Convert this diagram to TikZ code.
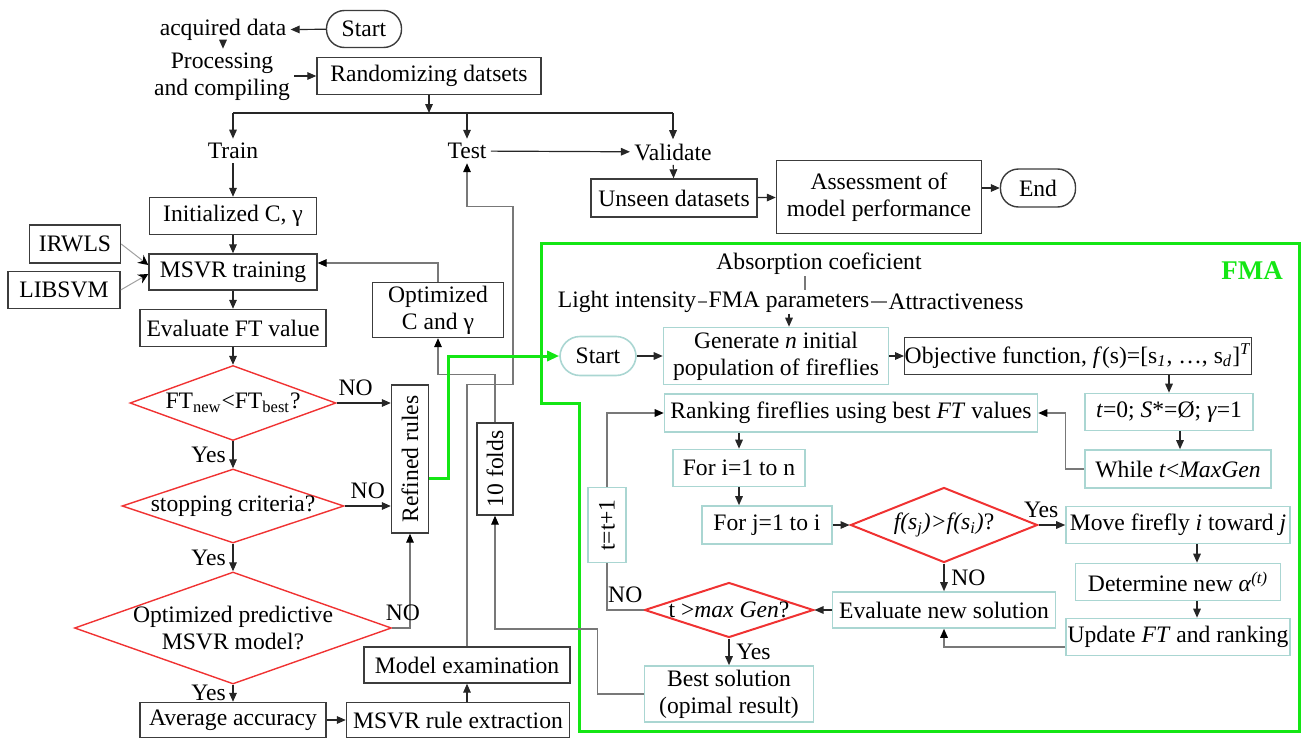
\documentclass[tikz,border=0pt]{standalone}
\usepackage{fontspec}
\setmainfont{Liberation Serif}
\usetikzlibrary{arrows.meta,shapes.geometric,calc}
\definecolor{boxline}{RGB}{60,60,60}
\definecolor{fmaline}{RGB}{170,214,210}
\definecolor{decred}{RGB}{240,50,50}
\definecolor{fmagreen}{RGB}{20,230,20}
\definecolor{wire}{RGB}{120,120,120}
\begin{document}
\begin{tikzpicture}[x=0.5pt,y=-0.5pt,
  font=\fontsize{11.8}{13.5}\selectfont,
  box/.style={draw=boxline,line width=0.7pt,inner sep=0pt,align=center},
  fbox/.style={draw=fmaline,line width=0.8pt,inner sep=0pt,align=center},
  term/.style={box,rounded corners=9pt},
  dec/.style={draw=decred,line width=0.7pt,diamond,inner sep=-4pt,align=center},
  txt/.style={inner sep=2pt,align=center},
  ptxt/.style={inner sep=0.5pt},
  arr/.style={draw=black!85,line width=0.6pt,-{Triangle[length=4.5pt,width=3.8pt]}},
  garr/.style={draw=wire,line width=0.6pt,-{Triangle[length=4.5pt,width=3.8pt,color=black]}},
  gline/.style={draw=wire,line width=0.6pt},
  irw/.style={draw=wire!70,line width=0.5pt,-{Stealth[length=5pt,width=5pt,color=black]}},
  grn/.style={draw=fmagreen,line width=1.5pt}]
  \useasboundingbox (0,0) rectangle (1301,739);
  \node[txt] (acq) at (223,30) {acquired data};
  \node[term,minimum width=37.5pt,minimum height=18.5pt] (start) at (364,29) {Start};
  \node[txt] (proc) at (222,77) {Processing\\and compiling};
  \node[box,minimum width=112pt,minimum height=18.5pt] (rand) at (429,76) {Randomizing datsets};
  \coordinate (bus) at (429,113);
  \node[txt] (train) at (233,151) {Train};
  \node[txt] (test) at (467,151) {Test};
  \node[txt] (valid) at (673,152) {Validate};
  \node[box,minimum width=83.5pt,minimum height=18.5pt] (init) at (233,216) {Initialized C, γ};
  \node[box,minimum width=45.5pt,minimum height=19pt] (irwls) at (75,244) {IRWLS};
  \node[box,minimum width=56pt,minimum height=18.5pt] (libsvm) at (64,290) {LIBSVM};
  \node[box,minimum width=84pt,minimum height=18pt] (msvr) at (233,272) {MSVR training};
  \node[box,minimum width=93pt,minimum height=18.5pt] (evft) at (233,328) {Evaluate FT value};
  \node[dec,minimum width=103pt,minimum height=37.5pt,aspect=2.75] (ftd) at (233,403) {FT\textsubscript{new}<FT\textsubscript{best}?};
  \node[dec,minimum width=111pt,minimum height=37pt,aspect=3] (stop) at (233,506) {stopping criteria?};
  \node[dec,minimum width=158.5pt,minimum height=56pt,aspect=2.83] (optd) at (233,628) {Optimized predictive\\MSVR model?};
  \node[box,minimum width=93pt,minimum height=17.5pt] (avg) at (233,720) {Average accuracy};
  \node[box,minimum width=111.5pt,minimum height=17.5pt] (rule) at (458,720) {MSVR rule extraction};
  \node[box,minimum width=103pt,minimum height=18pt] (modx) at (467,665) {Model examination};
  \node[box,minimum width=65.5pt,minimum height=27.5pt] (optc) at (438,310) {Optimized\\C and γ};
  \node[box,minimum width=18.5pt,minimum height=74pt] (refined) at (410,459) {\rotatebox{90}{Refined rules}};
  \node[box,minimum width=18pt,minimum height=46pt] (tenf) at (495,469) {\rotatebox{90}{10 folds}};
  \node[box,minimum width=83pt,minimum height=19pt] (unseen) at (674,198) {Unseen datasets};
  \node[box,minimum width=102.5pt,minimum height=36.5pt] (assess) at (879,197) {Assessment of\\model performance};
  \node[term,minimum width=37.5pt,minimum height=19pt] (endn) at (1038,188) {End};

  \draw[grn] (541,243) -- (541,403) -- (579,403) -- (579,731) -- (1299,731) -- (1299,243) -- cycle;
  \node[text=fmagreen,font=\fontsize{13.5}{15}\selectfont\bfseries] (fmalbl) at (1252,271) {FMA};
  \node[ptxt] (abs) at (819,264) {Absorption coeficient};
  \node[ptxt] (light) at (627,302) {Light intensity};
  \node[ptxt] (fmap) at (789,302) {FMA parameters};
  \node[ptxt] (attr) at (956,302) {Attractiveness};
  \node[fbox,rounded corners=10pt,minimum width=38pt,minimum height=19.5pt] (fstart) at (598,356) {Start};
  \node[fbox,minimum width=112.5pt,minimum height=28.5pt] (gen) at (776,356) {Generate \textit{n} initial\\population of fireflies};
  \node[box,minimum width=172.5pt,minimum height=18.5pt] (obj) at (1078,356) {Objective function, \textit{f}(s)=[s\textsubscript{\textit{1}}, …, s\textsubscript{\textit{d}}]\textsuperscript{\textit{T}}};
  \node[fbox,minimum width=84pt,minimum height=18.5pt] (tzero) at (1169,412) {\textit{t}=0; \textit{S}*=Ø; \textit{γ}=1};
  \node[fbox,minimum width=93pt,minimum height=19pt] (whl) at (1178,469) {While \textit{t}<\textit{MaxGen}};
  \node[fbox,minimum width=186.5pt,minimum height=19pt] (rank) at (851,413) {Ranking fireflies using best \textit{FT} values};
  \node[fbox,minimum width=66pt,minimum height=18.5pt] (fori) at (739,468) {For i=1 to n};
  \node[fbox,minimum width=65pt,minimum height=19pt] (forj) at (767,525) {For j=1 to i};
  \node[dec,line width=1pt,minimum width=93.5pt,minimum height=37.5pt,aspect=2.49] (fdia) at (944,525) {\textit{f(s\textsubscript{j})>f(s\textsubscript{i})}?};
  \node[fbox,minimum width=112pt,minimum height=18.5pt] (move) at (1178,525) {Move firefly \textit{i} toward \textit{j}};
  \node[fbox,minimum width=102.5pt,minimum height=18.5pt] (det) at (1178,582) {Determine new \textit{α}\textsuperscript{\textit{(t)}}};
  \node[fbox,minimum width=112pt,minimum height=18.5pt] (upd) at (1178,637) {Update \textit{FT} and ranking};
  \node[fbox,minimum width=111.5pt,minimum height=18pt] (evsol) at (944,610) {Evaluate new solution};
  \node[dec,line width=1pt,minimum width=84.5pt,minimum height=27.5pt,aspect=3.07] (tdia) at (729,610) {t >\textit{max Gen}?};
  \node[fbox,minimum width=84.5pt,minimum height=28pt] (best) at (729,694) {Best solution\\(opimal result)};
  \node[fbox,minimum width=19pt,minimum height=37.5pt] (tinc) at (607,525) {\rotatebox{90}{t=t+1}};

  \draw[arr] (start) -- (acq);
  \draw[arr] (acq.south) -- (acq.south |- proc.north);
  \draw[arr] (proc.east |- rand.west) -- (rand.west);
  \draw[arr] (rand.south) -- (bus);
  \draw[draw=black!85,line width=0.6pt] (train |- bus) -- (valid |- bus);
  \draw[arr] (train |- bus) -- (train.north);
  \draw[arr] (test |- bus) -- (test.north);
  \draw[arr] (valid |- bus) -- (valid.north);
  \draw[arr] (test) -- (valid);
  \draw[arr] (valid) -- (unseen);
  \draw[arr] (unseen) -- (assess);
  \draw[arr] (assess.east |- endn.west) -- (endn.west);
  \draw[arr] (train) -- (init);
  \draw[arr] (init) -- (msvr);
  \draw[irw] (irwls.east) -- ($(msvr.west)+(0,-7)$);
  \draw[irw] (libsvm.east) -- ($(msvr.west)+(0,2)$);
  \draw[arr] (msvr) -- (evft);
  \draw[arr] (evft) -- (ftd);
  \draw[arr] (ftd) -- node[left]{Yes} (stop);
  \draw[arr] (stop) -- node[left]{Yes} (optd);
  \draw[arr] (optd) -- node[left]{Yes} (avg);
  \draw[arr] (ftd.east) -- node[pos=0.35,above]{NO} (ftd.east -| refined.west);
  \draw[arr] (stop.east) -- node[above]{NO} (stop.east -| refined.west);
  \draw[garr] (optd.east) -| node[pos=0.3,above]{NO} (refined.south);
  \draw[garr] (optc.north) |- ($(msvr.east)+(0,-9)$);
  \draw[garr] (tenf.north) -- ++(0,-48) -| (optc.south);
  \draw[garr] (modx.north) -- ++(0,-262) -- ++(46,0) -- ++(0,-178) -| (test.south);
  \draw[arr] (avg) -- (rule);
  \draw[arr] (rule.north -| modx.south) -- (modx.south);
  \draw[garr] (best.west) -- ++(-46,0) -- ++(0,-65) -| (tenf.south);
  \draw[grn,-{Triangle[length=6pt,width=5pt]}] ($(refined.east)+(0,19)$) -- ++(19,0) |- (fstart.west);

  \draw[gline] ([xshift=-7pt]abs.south) -- ([xshift=-7pt]abs.south |- fmap.north);
  \draw[gline] (light.east) -- (fmap.west);
  \draw[gline] (fmap.east) -- (attr.west);
  \draw[arr] (fmap.south) -- (fmap.south |- gen.north);
  \draw[arr] (fstart) -- (gen);
  \draw[arr] (gen) -- (obj);
  \draw[arr] (tzero.north |- obj.south) -- (tzero.north);
  \draw[arr] ([xshift=5.5pt]tzero.south) -- ([xshift=5.5pt]tzero.south |- whl.north);
  \draw[garr] (whl.west) -- ++(-19,0) |- (rank.east);
  \draw[arr] (fori.north |- rank.south) -- (fori.north);
  \draw[arr] (fori.south) -- (fori.south |- forj.north);
  \draw[arr] (forj) -- (fdia);
  \draw[arr] (fdia) -- node[pos=0.1,above]{Yes} (move);
  \draw[arr] ([xshift=9.5pt]move.south) -- ([xshift=9.5pt]det.north);
  \draw[arr] ([xshift=9.5pt]det.south) -- ([xshift=9.5pt]upd.north);
  \draw[garr] ([yshift=-5pt]upd.west) -| (evsol.south);
  \draw[arr] (fdia) -- node[right]{NO} (evsol);
  \draw[arr] (evsol) -- (tdia);
  \draw[arr] (tdia) -- node[right]{Yes} (best);
  \draw[gline] (tdia.west) -| node[pos=0.25,above]{NO} (tinc.south);
  \draw[garr] (tinc.north) |- (rank.west);
\end{tikzpicture}
\end{document}
